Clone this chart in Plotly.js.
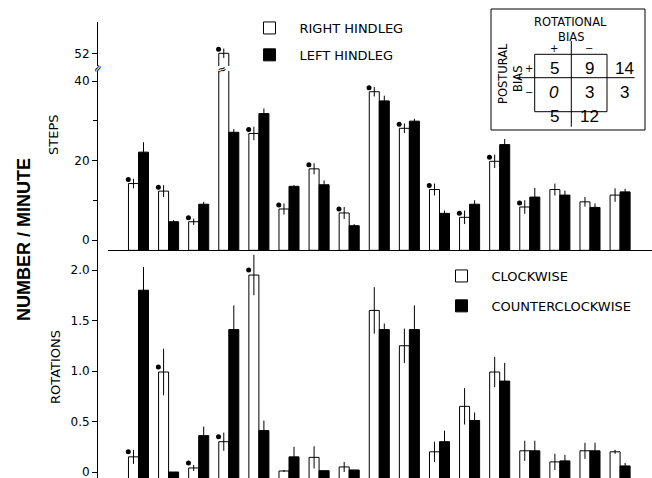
<!DOCTYPE html>
<html>
<head>
<meta charset="utf-8">
<script src="https://cdn.plot.ly/plotly-3.0.1.min.js"></script>
<style>html,body{margin:0;padding:0;background:#fff;}#chart{width:652px;height:478px;}</style>
</head>
<body>
<div id="chart"></div>
<script>
// ---------- data ----------
const groupIdx = [0, 1, 2, 3, 4, 5, 6, 7, 8, 9, 10, 11, 12, 13, 14, 15, 16];

const stepsRight    = [14.2, 12.3, 4.6, 52.0, 26.8, 7.8, 17.9, 6.8, 37.3, 28.1, 12.7, 5.7, 19.8, 8.3, 12.7, 9.6, 11.3];
const stepsRightErr = [1.2, 1.5, 0.8, 1.2, 1.7, 1.4, 1.4, 1.5, 1.2, 1.2, 1.5, 1.7, 1.7, 1.7, 1.5, 1.2, 1.7];
const stepsLeft     = [22.1, 4.6, 9.0, 27.1, 31.8, 13.5, 13.9, 3.6, 35.0, 29.9, 6.7, 9.0, 24.0, 10.8, 11.3, 8.2, 12.1];
const stepsLeftErr  = [2.5, 0.4, 0.6, 0.8, 1.3, 0.3, 1.1, 0.4, 1.3, 0.6, 0.7, 1.0, 1.4, 2.3, 1.1, 1.0, 0.8];
const stepsSig      = [1, 1, 1, 1, 1, 1, 1, 1, 1, 1, 1, 1, 1, 1, 0, 0, 0];

const rotCW     = [0.15, 0.99, 0.04, 0.30, 1.95, 0.01, 0.145, 0.05, 1.60, 1.25, 0.20, 0.65, 0.99, 0.21, 0.10, 0.21, 0.20];
const rotCWErr  = [0.07, 0.23, 0.03, 0.09, 0.20, 0.01, 0.11, 0.05, 0.23, 0.17, 0.10, 0.18, 0.15, 0.10, 0.08, 0.08, 0.02];
const rotCCW    = [1.80, 0.00, 0.36, 1.41, 0.41, 0.15, 0.013, 0.02, 1.41, 1.41, 0.30, 0.51, 0.90, 0.21, 0.11, 0.21, 0.06];
const rotCCWErr = [0.23, 0.00, 0.09, 0.24, 0.10, 0.10, 0.00, 0.00, 0.06, 0.24, 0.11, 0.08, 0.18, 0.10, 0.06, 0.08, 0.03];
const rotSig    = [1, 1, 1, 1, 1, 0, 0, 0, 0, 0, 0, 0, 0, 0, 0, 0, 0];

const seriesNames = ['RIGHT HINDLEG', 'LEFT HINDLEG', 'CLOCKWISE', 'COUNTERCLOCKWISE'];

// inset contingency table
const tableRowLabels = ['+', '\u2212'];
const tableColLabels = ['+', '\u2212'];
const tableCells = [[5, 9], [0, 3]];
const tableRowTotals = [14, 3];
const tableColTotals = [5, 12];

// ---------- geometry helpers ----------
const W = 652, H = 478;
const px = x => x / W;
const py = y => 1 - y / H;
const stepsBase = -2.6;
const rotBase = -0.08;
const barW = 0.333;
const FONT = 'DejaVu Sans, Liberation Sans, Arial, sans-serif';

function sigX(sig) { return groupIdx.filter((g, i) => sig[i]).map(g => g - 0.34); }
function sigY(sig, vals, off) { return vals.filter((v, i) => sig[i]).map(v => v + off); }

const whiteBar = { color: '#ffffff', line: { color: '#000', width: 1 } };
const blackBar = { color: '#000000', line: { color: '#000', width: 1 } };
function err(arr) { return { type: 'data', array: arr, symmetric: true, visible: true, color: '#000', thickness: 1, width: 0 }; }

const traces = [
  // top panel (lower part)
  { type: 'bar', name: seriesNames[0], x: groupIdx, y: stepsRight.map(v => v - stepsBase), base: stepsBase,
    width: barW, offset: -barW, marker: whiteBar, error_y: err(stepsRightErr), xaxis: 'x', yaxis: 'y2',
    legend: 'legend', legendgroup: 'a', hoverinfo: 'skip' },
  { type: 'bar', name: seriesNames[1], x: groupIdx, y: stepsLeft.map(v => v - stepsBase), base: stepsBase,
    width: barW, offset: 0, marker: blackBar, error_y: err(stepsLeftErr), xaxis: 'x', yaxis: 'y2',
    legend: 'legend', legendgroup: 'b', hoverinfo: 'skip' },
  // top panel (upper part above the break)
  { type: 'bar', name: seriesNames[0], x: groupIdx, y: stepsRight.map(v => v - stepsBase), base: stepsBase,
    width: barW, offset: -barW, marker: whiteBar, error_y: err(stepsRightErr), xaxis: 'x', yaxis: 'y3',
    showlegend: false, hoverinfo: 'skip' },
  { type: 'scatter', mode: 'markers', x: sigX(stepsSig), y: sigY(stepsSig, stepsRight, 1.0), xaxis: 'x', yaxis: 'y2',
    marker: { color: '#000', size: 5 }, showlegend: false, hoverinfo: 'skip' },
  { type: 'scatter', mode: 'markers', x: sigX(stepsSig), y: sigY(stepsSig, stepsRight, 1.0), xaxis: 'x', yaxis: 'y3',
    marker: { color: '#000', size: 5 }, showlegend: false, hoverinfo: 'skip' },
  // bottom panel
  { type: 'bar', name: seriesNames[2], x: groupIdx, y: rotCW.map(v => v - rotBase), base: rotBase,
    width: barW, offset: -barW, marker: whiteBar, error_y: err(rotCWErr), xaxis: 'x', yaxis: 'y',
    legend: 'legend2', legendgroup: 'c', hoverinfo: 'skip' },
  { type: 'bar', name: seriesNames[3], x: groupIdx, y: rotCCW.map(v => v - rotBase), base: rotBase,
    width: barW, offset: 0, marker: blackBar, error_y: err(rotCCWErr), xaxis: 'x', yaxis: 'y',
    legend: 'legend2', legendgroup: 'd', hoverinfo: 'skip' },
  { type: 'scatter', mode: 'markers', x: sigX(rotSig), y: sigY(rotSig, rotCW, 0.05), xaxis: 'x', yaxis: 'y',
    marker: { color: '#000', size: 5 }, showlegend: false, hoverinfo: 'skip' }
];

const tickFont = { family: FONT, size: 12, color: '#000' };
const yCommon = {
  anchor: 'free', position: px(97), showline: true, linecolor: '#000', linewidth: 1,
  ticks: 'outside', ticklen: 5, tickcolor: '#000', tickwidth: 1, showgrid: false, zeroline: false,
  tickfont: tickFont, fixedrange: true, tickmode: 'array', ticklabeloverflow: 'allow'
};
const sc = 3.975; // px per step unit

const annotations = [
  { text: '<b>NUMBER / MINUTE</b>', x: px(24), y: py(240), textangle: -90, font: { family: 'Liberation Sans, Arial, sans-serif', size: 18, color: '#000' } },
  { text: 'STEPS', x: px(53), y: py(135), textangle: -90, font: { family: FONT, size: 13, color: '#000' } },
  { text: 'ROTATIONS', x: px(55), y: py(367), textangle: -90, font: { family: FONT, size: 13, color: '#000' } },
  { text: '\u2248', x: px(97), y: py(69), textangle: -60, font: { family: FONT, size: 11, color: '#000' } },
  { text: '\u2248', x: px(222), y: py(69), textangle: -20, font: { family: FONT, size: 11, color: '#000' } },
  // inset
  { text: 'ROTATIONAL', x: px(570.5), y: py(22), font: { family: FONT, size: 11.5, color: '#000' } },
  { text: 'BIAS', x: px(570.5), y: py(37), font: { family: FONT, size: 11.5, color: '#000' } },
  { text: 'POSTURAL', x: px(503), y: py(74), textangle: -90, font: { family: FONT, size: 11.5, color: '#000' } },
  { text: 'BIAS', x: px(518), y: py(79), textangle: -90, font: { family: FONT, size: 11.5, color: '#000' } }
];
const colX = [554, 589, 624];
const rowY = [68.5, 92.5, 116.5];
tableColLabels.forEach((t, j) => annotations.push({ text: t, x: px(colX[j]), y: py(48), font: { family: FONT, size: 10, color: '#000' } }));
tableRowLabels.forEach((t, i) => annotations.push({ text: t, x: px(529), y: py(rowY[i]), font: { family: FONT, size: 10, color: '#000' } }));
tableCells.forEach((row, i) => row.forEach((v, j) => annotations.push({ text: String(v), x: px(colX[j]), y: py(rowY[i]), font: { family: 'Liberation Sans, Arial, sans-serif', size: 17, color: '#000', style: (i === 1 && j === 0) ? 'italic' : 'normal' } })));
tableRowTotals.forEach((v, i) => annotations.push({ text: String(v), x: px(colX[2]), y: py(rowY[i]), font: { family: 'Liberation Sans, Arial, sans-serif', size: 17, color: '#000' } }));
tableColTotals.forEach((v, j) => annotations.push({ text: String(v), x: px(colX[j]), y: py(rowY[2]), font: { family: 'Liberation Sans, Arial, sans-serif', size: 17, color: '#000' } }));
annotations.forEach(a => { a.xref = 'paper'; a.yref = 'paper'; a.showarrow = false; a.xanchor = 'center'; a.yanchor = 'middle'; });

const line = { color: '#000', width: 1 };
const shapes = [
  { type: 'rect', x0: px(491), x1: px(645), y0: py(9), y1: py(130), line: line },
  { type: 'rect', x0: px(534.7), x1: px(607), y0: py(54.3), y1: py(111.7), line: line },
  { type: 'line', x0: px(517), x1: px(634.7), y0: py(77.7), y1: py(77.7), line: line },
  { type: 'line', x0: px(571.3), x1: px(571.3), y0: py(41), y1: py(126.7), line: line }
].map(s => Object.assign({ xref: 'paper', yref: 'paper' }, s));

const legendFont = { family: FONT, size: 13, color: '#000' };
const layout = {
  width: W, height: H,
  margin: { l: 0, r: 0, t: 0, b: 0, pad: 0 },
  paper_bgcolor: '#fff', plot_bgcolor: 'rgba(0,0,0,0)',
  showlegend: true,
  barmode: 'overlay',
  xaxis: { domain: [px(108), 1], range: [-1.013, 17.06], anchor: 'y2', showline: true, linecolor: '#000', linewidth: 1,
           ticks: '', showticklabels: false, showgrid: false, zeroline: false, fixedrange: true },
  yaxis: Object.assign({}, yCommon, { domain: [0, py(250)], range: [-6 / 101, 222 / 101],
           tickvals: [0, 0.5, 1, 1.5, 2], ticktext: ['0', '0.5', '1.0', '1.5', '2.0'] }),
  yaxis2: Object.assign({}, yCommon, { domain: [py(250), py(71)], range: [(240 - 250) / sc, (240 - 71) / sc],
           tickvals: [0, 20, 40], ticktext: ['0', '20', '40'],
           minor: { tickmode: 'array', tickvals: [10, 30], ticks: 'outside', ticklen: 4, tickcolor: '#000', showgrid: false } }),
  yaxis3: Object.assign({}, yCommon, { domain: [py(66), py(21.7)], range: [52 - (66 - 53.3) / sc, 52 + (53.3 - 21.7) / sc],
           tickvals: [52], ticktext: ['52'] }),
  legend: { x: px(239.5), y: py(13), xanchor: 'left', yanchor: 'top', bgcolor: 'rgba(0,0,0,0)', borderwidth: 0,
            font: legendFont, itemwidth: 50, traceorder: 'grouped', tracegroupgap: 7, itemclick: false, itemdoubleclick: false },
  legend2: { x: px(431.5), y: py(261), xanchor: 'left', yanchor: 'top', bgcolor: 'rgba(0,0,0,0)', borderwidth: 0,
            font: legendFont, itemwidth: 50, traceorder: 'grouped', tracegroupgap: 10, itemclick: false, itemdoubleclick: false },
  annotations: annotations,
  shapes: shapes
};

Plotly.newPlot('chart', traces, layout, { displayModeBar: false, staticPlot: true });
</script>
</body>
</html>
